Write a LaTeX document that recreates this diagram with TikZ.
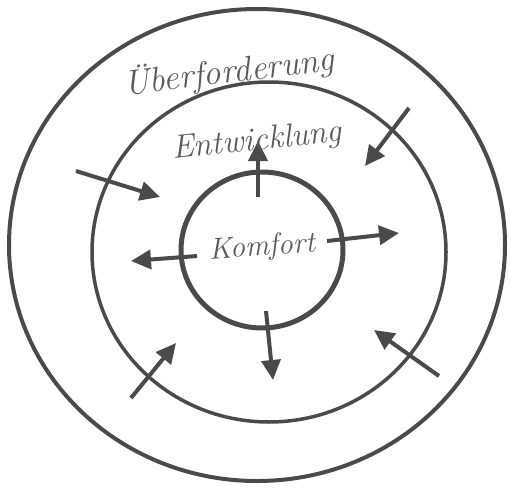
\documentclass[tikz,border=0pt]{standalone}
\usetikzlibrary{arrows.meta}
\definecolor{ink}{HTML}{4A4A4A}
\definecolor{txt}{HTML}{5A5A5A}
\begin{document}
\begin{tikzpicture}[x=1pt,y=-1pt,
  ring/.style={draw=ink,line width=#1},
  push/.style={draw=ink,line width=4pt,-{Triangle[length=20pt,width=19pt]}},
  label/.style={text=txt,font=\itshape\fontsize{#1}{#1}\selectfont,inner sep=0pt}]
\useasboundingbox (0,0) rectangle (511,487);
\draw[ring=4pt] (257,245) ellipse [x radius=248, y radius=236];
\draw[ring=3.5pt] (269,252) ellipse [x radius=177, y radius=170];
\draw[ring=5pt] (262,250) ellipse [x radius=81, y radius=78];
% coordinates
\coordinate (u0) at (258,197); \coordinate (u1) at (258,141);
\coordinate (r0) at (327,241); \coordinate (r1) at (399,233);
\coordinate (l0) at (197,256); \coordinate (l1) at (131,261);
\coordinate (d0) at (266,311); \coordinate (d1) at (273,380);
\coordinate (a0) at (76,171);  \coordinate (a1) at (160,197);
\coordinate (b0) at (409,108); \coordinate (b1) at (365,166);
\coordinate (c0) at (131,398); \coordinate (c1) at (176,343);
\coordinate (e0) at (439,376); \coordinate (e1) at (374,330);
\draw[push] (u0) -- (u1);
\draw[push] (r0) -- (r1);
\draw[push] (l0) -- (l1);
\draw[push] (d0) -- (d1);
\draw[push] (a0) -- (a1);
\draw[push] (b0) -- (b1);
\draw[push] (c0) -- (c1);
\draw[push] (e0) -- (e1);
\node[label=35,rotate=7] (ueber) at (229,72) {Überforderung};
\node[label=33,rotate=6] (entw) at (257,142) {Entwicklung};
\node[label=30,rotate=4] (komf) at (262,248) {Komfort};
\end{tikzpicture}
\end{document}
